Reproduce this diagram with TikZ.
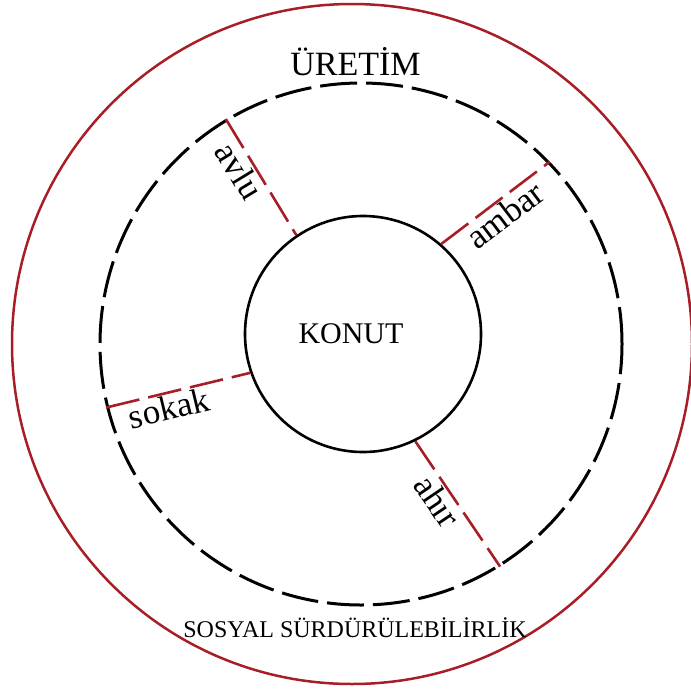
\documentclass[tikz,border=0pt]{standalone}
\usepackage{fontspec}
\setmainfont{Liberation Serif}
\definecolor{ringred}{RGB}{168,30,38}
\begin{document}
\begin{tikzpicture}[x=1pt,y=-1pt,
  ring/.style={circle, inner sep=0pt, draw},
  outerring/.style={ring, draw=ringred, line width=2.5pt, minimum size=680pt},
  midring/.style={ring, line width=3pt, dash pattern=on 37pt off 9pt, minimum size=522pt},
  innerring/.style={ring, line width=2.6pt, minimum size=236pt},
  spoke/.style={draw=ringred, line width=2.6pt, dash pattern=on 34pt off 9pt},
  spokelabel/.style={font=\fontsize{35}{37}\selectfont, inner sep=1.5pt, below, sloped},
  title/.style={anchor=base}
]
\useasboundingbox (0,0) rectangle (691,691);
\node[outerring] (outer) at (352,344) {};
\node[midring] (mid) at (361,344) {};
\node[innerring] (konut) at (363,334) {};
\node[font=\fontsize{30}{32}\selectfont] (konutlabel) at (351,334) {KONUT};
\node[title, font=\fontsize{34}{36}\selectfont] (uretim) at (355.5,75) {ÜRETİM};
\node[title, font=\fontsize{24}{26}\selectfont] (sosyal) at (355,637) {SOSYAL SÜRDÜRÜLEBİLİRLİK};
\draw[spoke] (mid.121.3) -- node[spokelabel, pos=0.38] (avlu) {avlu} (konut.124.9);
\draw[spoke] (konut.49.3) -- node[spokelabel, pos=0.5] (ambar) {ambar} (mid.44.06);
\draw[spoke] (mid.194.2) -- node[spokelabel, pos=0.41] (sokak) {sokak} (konut.199.9);
\draw[spoke] (konut.-64.5) -- node[spokelabel, pos=0.41] (ahir) {ahır} (mid.-58.6);
\end{tikzpicture}
\end{document}
